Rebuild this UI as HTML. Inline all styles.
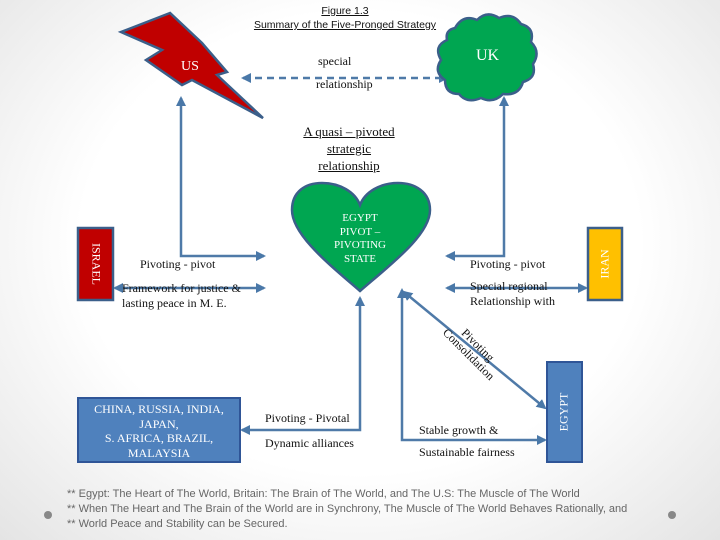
<!DOCTYPE html>
<html><head><meta charset="utf-8"><style>
body{margin:0;width:720px;height:540px;overflow:hidden;background:radial-gradient(ellipse at 50% 45%,#ffffff 55%,#e4e4e4 100%);font-family:"Liberation Serif",serif;position:relative}
.t{position:absolute;font-size:12px;color:#111;white-space:nowrap}
.fn{position:absolute;left:67px;font-family:"Liberation Sans",sans-serif;font-size:11px;color:#666;white-space:nowrap}
</style></head><body>
<svg width="720" height="540" style="position:absolute;left:0;top:0">
<defs><marker id="a" viewBox="0 0 10 10" refX="8" refY="5" markerWidth="4" markerHeight="4" orient="auto-start-reverse"><path d="M0,0L10,5L0,10z" fill="#4a78a8"/></marker></defs>
<g stroke="#4f7aa8" stroke-width="2.5" fill="none">
<line x1="243" y1="78" x2="447" y2="78" stroke-dasharray="7,5" marker-start="url(#a)" marker-end="url(#a)"/>
<polyline points="181,98 181,256 264,256" marker-start="url(#a)" marker-end="url(#a)"/>
<polyline points="504,98 504,256 447,256" marker-start="url(#a)" marker-end="url(#a)"/>
<line x1="115" y1="288" x2="264" y2="288" marker-start="url(#a)" marker-end="url(#a)"/>
<line x1="447" y1="288" x2="586" y2="288" marker-start="url(#a)" marker-end="url(#a)"/>
<polyline points="360,298 360,430 242,430" marker-start="url(#a)" marker-end="url(#a)"/>
<polyline points="402,290 402,440 545,440" marker-start="url(#a)" marker-end="url(#a)"/>
<line x1="404" y1="292" x2="545" y2="408" marker-start="url(#a)" marker-end="url(#a)"/>
</g>
<polygon points="170,13 121,32 162,50 146,60 182,85 192,80 263,118 217,75 227,72 202,43" fill="#c00000" stroke="#3b5f8a" stroke-width="2.5"/>
<path d="M455,28 q8,-14 22,-8 q10,-10 22,-2 q14,-6 22,6 q14,4 10,18 q10,10 2,22 q4,14 -10,18 q-4,14 -20,12 q-10,10 -22,4 q-14,6 -22,-4 q-14,0 -14,-14 q-12,-8 -4,-20 q-8,-14 6,-20 q-2,-10 8,-12z" fill="#00a651" stroke="#3b5f8a" stroke-width="2.5"/>
<path d="M360,291 C330,265 292,235 292,210 C292,192 305,183 322,183 C340,183 355,192 360,205 C365,192 380,183 398,183 C415,183 430,192 430,210 C430,235 390,265 360,291z" fill="#00a651" stroke="#3b5f8a" stroke-width="2.5"/>
<rect x="78" y="228" width="35" height="72" fill="#c00000" stroke="#3b5f8a" stroke-width="2.5"/>
<rect x="588" y="228" width="34" height="72" fill="#ffc000" stroke="#3b5f8a" stroke-width="2.5"/>
<rect x="78" y="398" width="162" height="64" fill="#4f81bd" stroke="#2f5597" stroke-width="2"/>
<rect x="547" y="362" width="35" height="100" fill="#4f81bd" stroke="#2f5597" stroke-width="2"/>
<circle cx="48" cy="515" r="4" fill="#888"/><circle cx="672" cy="515" r="4" fill="#888"/>
</svg>
<div class="t" style="left:245px;top:4px;width:200px;text-align:center;font-family:'Liberation Sans',sans-serif;font-size:10.5px;text-decoration:underline;line-height:14px">Figure 1.3<br>Summary of the Five-Pronged Strategy</div>
<div class="t" style="left:181px;top:59px;color:#fff;font-size:14px">US</div>
<div class="t" style="left:476px;top:47px;color:#fff;font-size:16px">UK</div>
<div class="t" style="left:318px;top:54px">special</div>
<div class="t" style="left:316px;top:77px">relationship</div>
<div class="t" style="left:299px;top:123px;width:100px;text-align:center;font-size:13px;line-height:17px;text-decoration:underline;white-space:normal">A quasi – pivoted strategic relationship</div>
<div class="t" style="left:325px;top:212px;width:70px;text-align:center;color:#fff;font-size:11px;line-height:13.5px;white-space:normal">EGYPT PIVOT – PIVOTING STATE</div>
<div class="t" style="left:96px;top:264px;color:#fff;transform:translate(-50%,-50%) rotate(90deg)">ISRAEL</div>
<div class="t" style="left:605px;top:264px;color:#fff;transform:translate(-50%,-50%) rotate(-90deg)">IRAN</div>
<div class="t" style="left:140px;top:257px">Pivoting - pivot</div>
<div class="t" style="left:122px;top:281px;line-height:15px">Framework for justice &amp;<br>lasting peace in M. E.</div>
<div class="t" style="left:470px;top:257px">Pivoting - pivot</div>
<div class="t" style="left:470px;top:279px;line-height:15px">Special regional<br>Relationship with</div>
<div class="t" style="left:473px;top:350px;transform:translate(-50%,-50%) rotate(45deg);line-height:13px;text-align:center">Pivoting<br>Consolidation</div>
<div class="t" style="left:564px;top:412px;color:#fff;transform:translate(-50%,-50%) rotate(-90deg)">EGYPT</div>
<div class="t" style="left:78px;top:402px;width:162px;text-align:center;color:#fff;line-height:14.5px">CHINA, RUSSIA, INDIA,<br>JAPAN,<br>S. AFRICA, BRAZIL,<br>MALAYSIA</div>
<div class="t" style="left:265px;top:411px">Pivoting - Pivotal</div>
<div class="t" style="left:265px;top:436px">Dynamic alliances</div>
<div class="t" style="left:419px;top:423px">Stable growth &amp;</div>
<div class="t" style="left:419px;top:445px">Sustainable fairness</div>
<div class="fn" style="top:488px">** Egypt: The Heart of The World, Britain: The Brain of The World, and The U.S: The Muscle of The World</div>
<div class="fn" style="top:503px">** When The Heart and The Brain of the World are in Synchrony, The Muscle of The World Behaves Rationally, and</div>
<div class="fn" style="top:518px">** World Peace and Stability can be Secured.</div>
</body></html>
